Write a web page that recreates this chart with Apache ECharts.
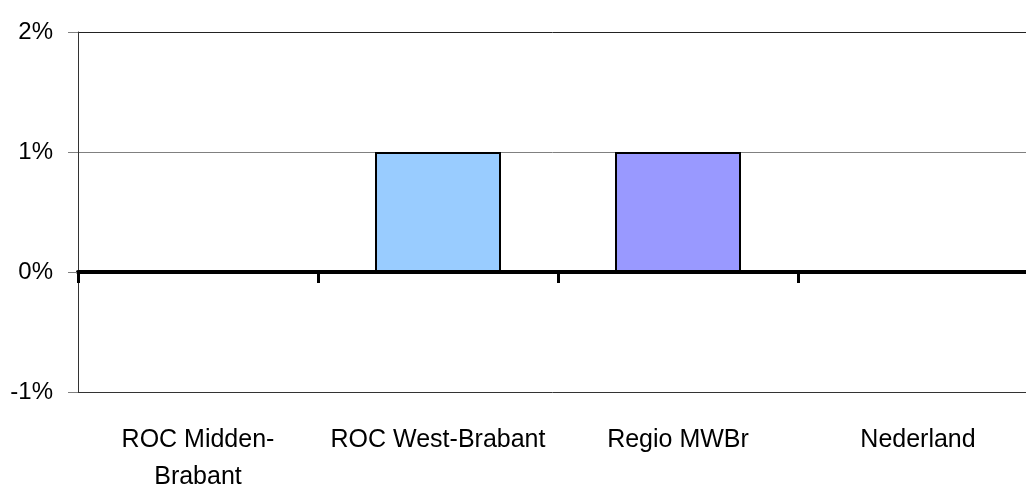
<!DOCTYPE html>
<html>
<head>
<meta charset="utf-8">
<script src="https://cdn.jsdelivr.net/npm/echarts@6/dist/echarts.min.js"></script>
<style>html,body{margin:0;padding:0;background:#fff;}#c{width:1026px;height:496px;}</style>
</head>
<body>
<div id="c"></div>
<script>
var categories = ['ROC Midden-\nBrabant', 'ROC West-Brabant', 'Regio MWBr', 'Nederland'];
var values = [0, 1, 1, 0];
var barColors = ['#9999FF', '#99CCFF', '#9999FF', '#99CCFF'];
var yTicks = [-1, 0, 1, 2];

var FONT = "'Liberation Sans', Arial, sans-serif";
var chart = echarts.init(document.getElementById('c'), null, {renderer: 'canvas'});
chart.setOption({
  animation: false,
  grid: {left: 78, top: 32, right: -12, bottom: 104, containLabel: false, outerBoundsMode: 'none'},
  xAxis: [{
    type: 'category',
    data: categories,
    position: 'bottom',
    axisLine: {show: true, onZero: true, lineStyle: {color: '#000', width: 4}},
    axisTick: {show: true, inside: false, length: 11, lineStyle: {color: '#000', width: 3}},
    axisLabel: {show: false},
    splitLine: {show: false}
  }, {
    type: 'category',
    data: categories,
    position: 'bottom',
    axisLine: {show: false, onZero: false},
    axisTick: {show: false},
    axisLabel: {show: true, interval: 0, margin: 30, color: '#000', fontFamily: FONT, fontSize: 25, lineHeight: 37},
    splitLine: {show: false}
  }],
  yAxis: {
    type: 'value',
    min: yTicks[0],
    max: yTicks[yTicks.length - 1],
    interval: 1,
    axisLine: {show: true, lineStyle: {color: '#333', width: 1}},
    axisTick: {show: true, inside: false, length: 10, lineStyle: {color: '#808080', width: 1}},
    axisLabel: {formatter: '{value}%', margin: 25, color: '#000', fontFamily: FONT, fontSize: 24},
    splitLine: {show: true, lineStyle: {color: ['#333', '#000', '#808080', '#222'], width: 1}}
  },
  series: [{
    type: 'bar',
    xAxisIndex: 0,
    barWidth: 126,
    data: values.map(function (v, i) {
      return {value: v, itemStyle: {color: barColors[i]}};
    }),
    itemStyle: {borderColor: '#000', borderWidth: 2}
  }]
});
</script>
</body>
</html>
